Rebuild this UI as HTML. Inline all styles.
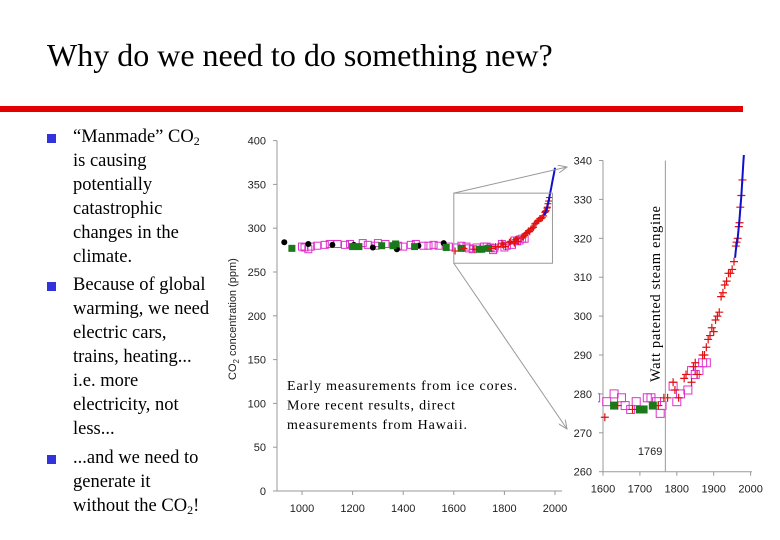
<!DOCTYPE html>
<html><head><meta charset="utf-8"><style>
body{margin:0;width:780px;height:540px;overflow:hidden;background:#fff;font-family:"Liberation Serif",serif;}
#title{position:absolute;left:47px;top:37px;font-size:32px;white-space:nowrap;}
#rule{position:absolute;left:0;top:106px;width:743px;height:6px;background:#e40000;}
.bul{position:absolute;left:73px;font-size:18.5px;line-height:24px;width:180px;white-space:nowrap;}
.sq{position:absolute;left:-26px;top:9px;width:9px;height:9px;background:#3333dd;}
sub{font-size:12px;vertical-align:-3px;line-height:0}
</style></head><body>
<div id="title">Why do we need to do something new?</div>
<div id="rule"></div>
<div class="bul" style="top:125px"><span class="sq"></span>“Manmade” CO<sub>2</sub><br>is causing<br>potentially<br>catastrophic<br>changes in the<br>climate.</div>
<div class="bul" style="top:273px"><span class="sq"></span>Because of global<br>warming, we need<br>electric cars,<br>trains, heating...<br>i.e. more<br>electricity, not<br>less...</div>
<div class="bul" style="top:446px"><span class="sq"></span>...and we need to<br>generate it<br>without the CO<sub>2</sub>!</div>
<svg id="chart" width="780" height="540" style="position:absolute;left:0;top:0">
<defs><clipPath id="insetClip"><rect x="598" y="155" width="160" height="320"/></clipPath>
<marker id="arr" markerWidth="10" markerHeight="8" refX="9" refY="4" orient="auto"><path d="M0,0 L9,4 L0,8" fill="none" stroke="#999" stroke-width="1"/></marker></defs>
<g id="main"></g><g id="inset"></g>
</svg>
<script>
const yTicksMain=[0,50,100,150,200,250,300,350,400];
const xTicksMain=[1000,1200,1400,1600,1800,2000];
const yTicksInset=[260,270,280,290,300,310,320,330,340];
const xTicksInset=[1600,1700,1800,1900,2000];
const blackYears=[930,1025,1120,1205,1280,1375,1460,1560];
const blackVals=[284,282,281,281,278,276,280,283];
const greenYears=[960,1200,1225,1315,1360,1370,1445,1570,1630,1700,1710,1735];
const greenVals=[277,279,279,280,280,282,279,278,277,276,276,277];
const magYears=[1000,1010,1025,1035,1060,1090,1110,1140,1170,1190,1240,1260,1290,1300,1330,1380,1400,1430,1450,1480,1500,1520,1540,1580,1610,1630,1650,1660,1675,1690,1720,1730,1745,1755,1760,1790,1800,1810,1830,1840,1850,1860,1870,1880];
const magVals=[279,278,276,279,280,281,282,282,281,282,283,281,280,283,282,280,279,281,282,280,280,281,280,279,278,280,279,277,276,278,279,279,278,275,277,282,278,280,281,286,285,286,288,288];
const redYears=[1605,1640,1680,1750,1765,1775,1790,1795,1805,1820,1825,1840,1845,1850,1855,1870,1875,1880,1885,1890,1895,1900,1905,1910,1915,1920,1925,1930,1935,1940,1945,1950,1955,1960,1962,1965,1968,1970,1972,1975,1978];
const redVals=[274,277,276,277,279,279,283,281,279,284,285,283,287,288,285,290,290,292,294,295,297,296,299,300,301,305,306,308,309,311,311,312,314,318,319,320,323,324,328,331,335];
const blueYears=[1958,1960,1965,1970,1975,1980,1985,1990,1995,2000];
const blueVals=[315,317,320,325,331,339,346,354,361,369];
const NS='http://www.w3.org/2000/svg';
function mk(p,t,a){const e=document.createElementNS(NS,t);for(const k in a)e.setAttribute(k,a[k]);p.appendChild(e);return e;}
function draw(g,xs,ys,o){
  let ax=mk(g,'line',{x1:o.x0,y1:ys(o.yMin),x2:o.x0,y2:ys(o.yMax),stroke:'#999'});
  
  
  let bx=mk(g,'line',{x1:o.x0,y1:ys(o.yMin),x2:o.xEnd,y2:ys(o.yMin),stroke:'#999'});
  
  
  o.yt.forEach(v=>{mk(g,'line',{x1:o.x0-4,x2:o.x0,y1:ys(v),y2:ys(v),stroke:'#999'});
    let t=mk(g,'text',{x:o.x0-11,y:ys(v)+4,'text-anchor':'end','font-family':'Liberation Sans,sans-serif','font-size':11,fill:'#222'});t.textContent=v;
    
    });
  o.xt.forEach(v=>{mk(g,'line',{x1:xs(v),x2:xs(v),y1:ys(o.yMin),y2:ys(o.yMin)+4,stroke:'#999'});
    let t=mk(g,'text',{x:xs(v),y:ys(o.yMin)+21,'text-anchor':'middle','font-family':'Liberation Sans,sans-serif','font-size':11,fill:'#222'});t.textContent=v;
    
    });
  const d=mk(g,'g',o.clip?{'clip-path':'url(#insetClip)'}:{});
  const s=o.s;
  magYears.forEach((y,i)=>{let r=mk(d,'rect',{x:xs(y)-s,y:ys(magVals[i])-s,width:2*s,height:2*s,fill:'none',stroke:'#dd33cc','stroke-width':1});
    
    });
  if(!o.clip) blackYears.forEach((y,i)=>{let c=mk(d,'circle',{cx:xs(y),cy:ys(blackVals[i]),r:3,fill:'#000'});
    
    });
  greenYears.forEach((y,i)=>{let r=mk(d,'rect',{x:xs(y)-s,y:ys(greenVals[i])-s,width:2*s,height:2*s,fill:'#1a7a1a'});
    
    });
  redYears.forEach((y,i)=>{const cx=xs(y),cy=ys(redVals[i]),k=s;let p=mk(d,'path',{d:`M${cx-k},${cy}H${cx+k}M${cx},${cy-k}V${cy+k}`,stroke:'#e01010','stroke-width':1.2});
    
    });
  let l=mk(d,'polyline',{points:blueYears.map((y,i)=>xs(y)+','+ys(blueVals[i])).join(' '),fill:'none',stroke:'#1010cc','stroke-width':2});
  
  
}
const gm=document.getElementById('main'),gi=document.getElementById('inset');
const xm=y=>302+(y-1000)*0.253, ym=v=>491-v*0.876;
draw(gm,xm,ym,{x0:277,xEnd:562,yMin:0,yMax:400,yt:yTicksMain,xt:xTicksMain,s:3.5,n:'main'});
const xi=y=>603+(y-1600)*0.369, yi=v=>471.7-(v-260)*3.89;
draw(gi,xi,yi,{x0:603,xEnd:752,yMin:260,yMax:340,yt:yTicksInset,xt:xTicksInset,s:4,clip:true,n:'inset'});
let zb=mk(gm,'rect',{x:xm(1600),y:ym(340),width:xm(1990)-xm(1600),height:ym(260)-ym(340),fill:'none',stroke:'#999'});


mk(gm,'line',{x1:xm(1600),y1:ym(340),x2:567,y2:167,stroke:'#999','marker-end':'url(#arr)'});
mk(gm,'line',{x1:xm(1600),y1:ym(260),x2:567,y2:429,stroke:'#999','marker-end':'url(#arr)'});
let wl=mk(gi,'line',{x1:xi(1769),x2:xi(1769),y1:yi(340),y2:yi(260),stroke:'#999'});


let t1=mk(gi,'text',{x:xi(1769)-3,y:455,'text-anchor':'end','font-family':'Liberation Sans,sans-serif','font-size':11,fill:'#222'});t1.textContent='1769';


let wt=mk(gi,'text',{x:0,y:0,transform:'translate(660,382) rotate(-90)','font-family':'Liberation Serif,serif','font-size':14.5,fill:'#000',textLength:176,lengthAdjust:'spacing'});wt.textContent='Watt patented steam engine';


let yl=mk(gm,'text',{x:0,y:0,transform:'translate(236,380) rotate(-90)','font-family':'Liberation Sans,sans-serif','font-size':11,fill:'#222'});yl.innerHTML='CO<tspan font-size="8" dy="3">2</tspan><tspan dy="-3"> concentration (ppm)</tspan>';


const noteLines=['Early measurements from ice cores.','More recent results, direct','measurements from Hawaii.'];
const noteLens=[230,168,180];
noteLines.forEach((s,i)=>{let t=mk(gm,'text',{x:287,y:390+i*19.5,'font-family':'Liberation Serif,serif','font-size':14,fill:'#000',textLength:noteLens[i],lengthAdjust:'spacing'});t.textContent=s;
  
  });
</script>
</body></html>
